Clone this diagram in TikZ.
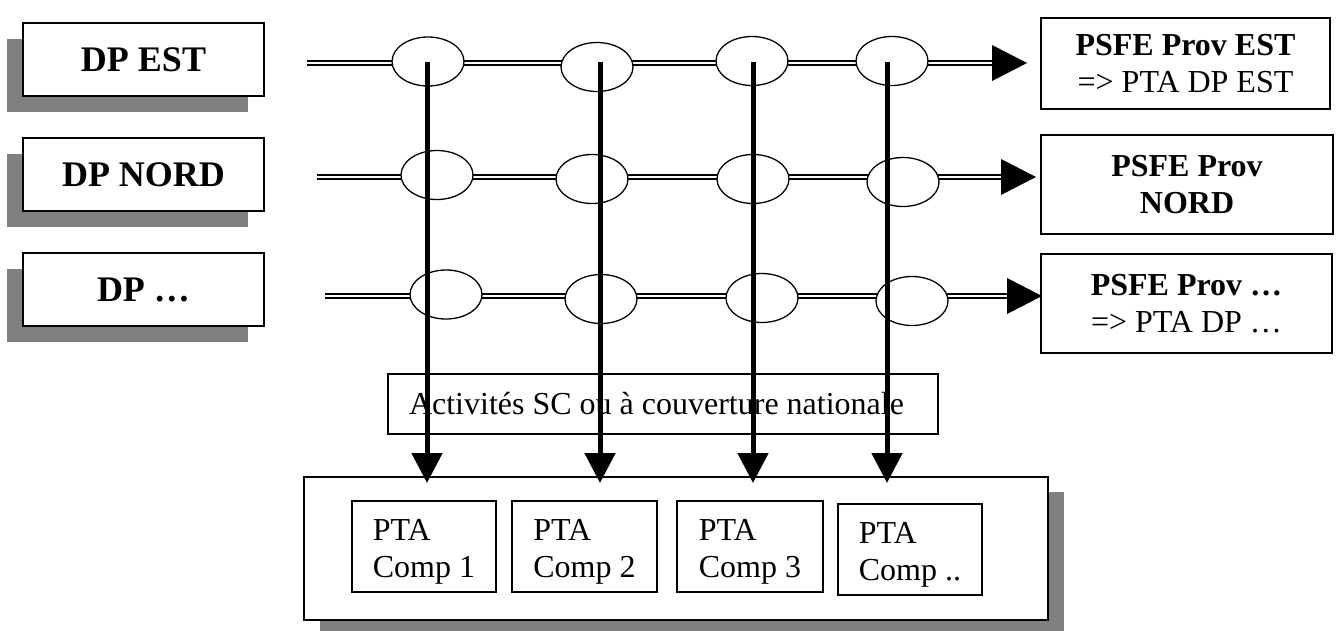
\documentclass[tikz,border=0pt]{standalone}
\usepackage{fontspec}
\setmainfont{Liberation Serif}
\usetikzlibrary{arrows.meta,shapes.geometric,shadows}
\definecolor{shadowgray}{HTML}{808080}
\newcommand{\liftstrut}{\rule{0pt}{31pt}}
\begin{document}
\begin{tikzpicture}[x=1pt,y=-1pt,
  every node/.style={font=\fontsize{32}{36.8}\selectfont},
  dpbox/.style={draw, line width=1.3pt, fill=white, minimum width=241pt, minimum height=73pt,
    inner sep=0pt, font=\fontsize{36}{40}\selectfont\bfseries,
    general shadow={fill=shadowgray, shadow xshift=-16pt, shadow yshift=-16pt}},
  psbox/.style={draw, line width=1.2pt, fill=white, inner sep=0pt, align=center},
  knot/.style={ellipse, draw, line width=1.3pt, fill=white, minimum width=72pt, minimum height=49pt, inner sep=0pt},
  dbl/.style={draw=black, double=white, double distance=2.6pt, line width=1.6pt},
  headarrow/.style={line width=0pt, -{Triangle[length=35pt,width=36pt]}},
  down/.style={line width=5pt, -{Triangle[length=30pt,width=30pt]}},
  compbox/.style={draw, line width=1.2pt, fill=white, minimum width=144pt, inner sep=0pt,
    minimum height=91pt, align=left, font=\fontsize{32}{37}\selectfont},
]
\clip (0,0) rectangle (1336,630);
\fill[white] (0,0) rectangle (1336,630);

% left boxes
\node[dpbox] (dpest) at (143.5,59.5) {DP EST};
\node[dpbox] (dpnord) at (143.5,174.5) {DP NORD};
\node[dpbox] (dpx) at (143.5,289.5) {DP …};

% right boxes
\node[psbox, minimum width=289pt, minimum height=91pt] (ps1) at (1185.5,63.5) {\textbf{PSFE Prov EST}\\=> PTA DP EST};
\node[psbox, minimum width=292pt, minimum height=99pt] (ps2) at (1187,184.5) {\textbf{PSFE Prov}\\\textbf{NORD}};
\node[psbox, minimum width=291pt, minimum height=99pt] (ps3) at (1186.5,303.5) {\textbf{PSFE Prov …}\\=> PTA DP …};

% line coordinates
\coordinate (s1) at (307,63);  \coordinate (b1) at (994,63);  \coordinate (t1) at (1027,63);
\coordinate (s2) at (317,177); \coordinate (b2) at (1003,177); \coordinate (t2) at (1036,177);
\coordinate (s3) at (325,296); \coordinate (b3) at (1012,296); \coordinate (t3) at (1042,296);

\draw[dbl] (s1) -- (b1);
\draw[dbl] (s2) -- (b2);
\draw[dbl] (s3) -- (b3);
\draw[headarrow] (992,63) -- (t1);
\draw[headarrow] (1001,177) -- (t2);
\draw[headarrow] (1009,296) -- (t3);

% ellipses
\node[knot] (e11) at (428,61.5) {};
\node[knot] (e12) at (597,67) {};
\node[knot] (e13) at (752,61) {};
\node[knot] (e14) at (892,61) {};
\node[knot] (e21) at (437,175) {};
\node[knot] (e22) at (592,179) {};
\node[knot] (e23) at (753,179) {};
\node[knot] (e24) at (903,182) {};
\node[knot] (e31) at (446,294.5) {};
\node[knot] (e32) at (601,299) {};
\node[knot] (e33) at (762,298) {};
\node[knot] (e34) at (912,301) {};

% activities box
\node[draw, line width=1.2pt, fill=white, minimum width=550pt, inner sep=0pt,
  minimum height=60pt] (act) at (663,404) {\hspace*{-13pt}Activités SC ou à couverture nationale};

% bottom box
\node[draw, line width=1.3pt, fill=white, minimum width=744pt, minimum height=143pt, inner sep=0pt,
  general shadow={fill=shadowgray, shadow xshift=16pt, shadow yshift=-15pt}] (bot) at (676,548.5) {};
\node[compbox] (c1) at (424,546.5) {\liftstrut PTA\\Comp 1};
\node[compbox, minimum width=145pt] (c2) at (584.5,546.5) {\liftstrut PTA\\Comp 2};
\node[compbox, minimum width=146pt] (c3) at (750,546.5) {\liftstrut PTA\\Comp 3};
\node[compbox] (c4) at (910,549.5) {\liftstrut PTA\\Comp ..};

% vertical arrows
\coordinate (v1s) at (427,62);  \coordinate (v1e) at (427,483);
\coordinate (v2s) at (600,62);  \coordinate (v2e) at (600,483);
\coordinate (v3s) at (753,62);  \coordinate (v3e) at (753,483);
\coordinate (v4s) at (887,62);  \coordinate (v4e) at (887,483);
\draw[down] (v1s) -- (v1e);
\draw[down] (v2s) -- (v2e);
\draw[down] (v3s) -- (v3e);
\draw[down] (v4s) -- (v4e);
\end{tikzpicture}
\end{document}
